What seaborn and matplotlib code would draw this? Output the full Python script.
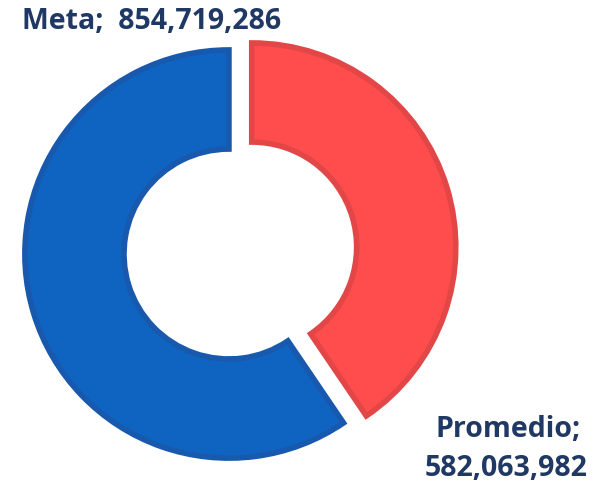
import numpy as np
import seaborn as sns
import matplotlib.pyplot as plt

labels = ["Promedio", "Meta"]
values = [582063982, 854719286]
colors = ["#FF4C4C", "#0F63C1"]
edges = ["#E24646", "#1859AE"]

sns.set_style("white")
plt.rcParams['font.family'] = ['Open Sans', 'DejaVu Sans']

fig = plt.figure(figsize=(6.03, 4.85), dpi=100)
ax = fig.add_axes([0, 0, 1, 1])

wedges, _ = ax.pie(values, colors=colors, startangle=90, counterclock=False,
                   explode=[0.115, 0], radius=0.986,
                   wedgeprops=dict(width=0.479, linewidth=4))
for w, ec in zip(wedges, edges):
    w.set_edgecolor(ec)

ax.set_xlim(-1.106, 1.807)
ax.set_ylim(-1.111, 1.232)
ax.set_aspect("equal")
ax.axis("off")

navy = "#1F3864"
fmt = lambda v: f"{v:,}"
ax.text(-0.372, 1.126, f"{labels[1]};  {fmt(values[1])}", ha="center", va="center",
        fontsize=20.5, fontweight="bold", color=navy)
ax.text(1.35, -0.845, f"{labels[0]};", ha="center", va="center",
        fontsize=20.5, fontweight="bold", color=navy)
ax.text(1.34, -1.029, fmt(values[0]), ha="center", va="center",
        fontsize=20.5, fontweight="bold", color=navy)

fig.savefig("out.png", dpi=100)
